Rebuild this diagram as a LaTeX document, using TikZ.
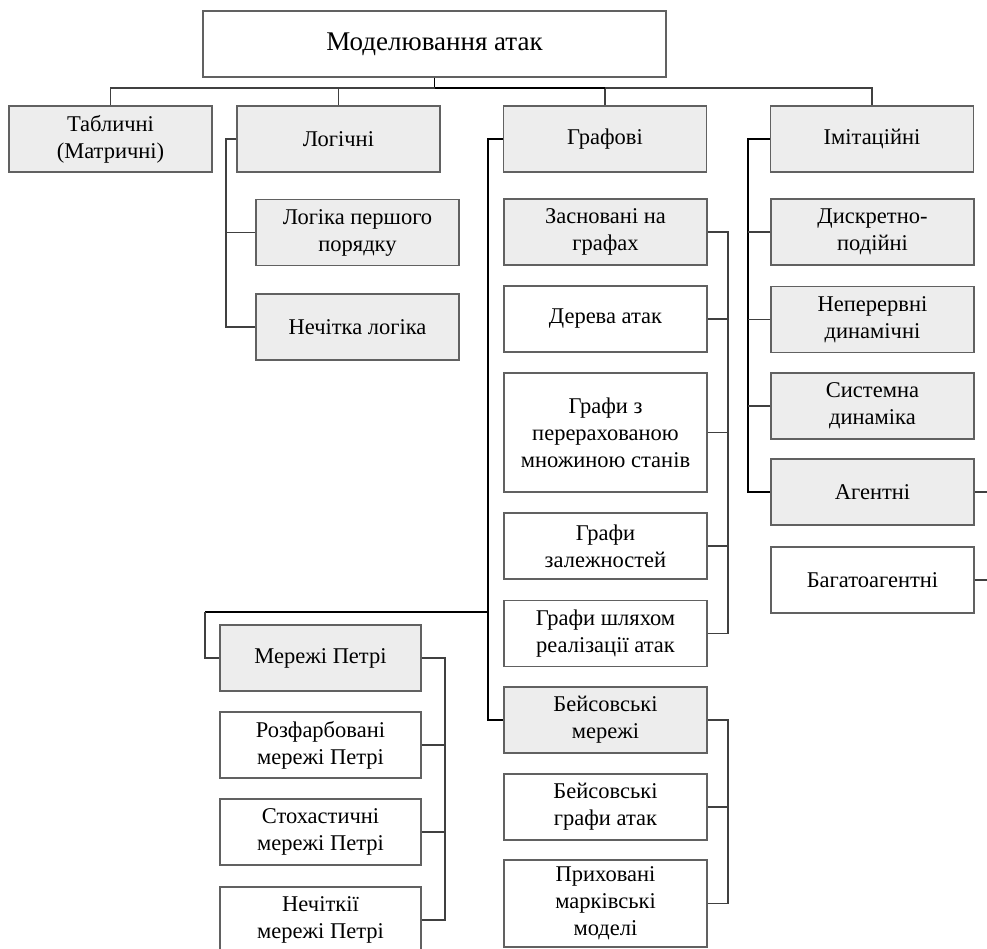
\documentclass[tikz,border=0pt]{standalone}
\usepackage{fontspec}
\setmainfont{Liberation Serif}
\begin{document}
\begin{tikzpicture}[x=1pt,y=-1pt,
  box/.style={draw=black!62, line width=1.3pt, fill=white, align=center,
    inner sep=1pt, minimum width=203pt, minimum height=66pt,
    font=\fontsize{22.5}{27}\selectfont},
  gbox/.style={box, fill=black!7},
  link/.style={draw=black!75, line width=1.1pt},
  bus/.style={draw=black, line width=1.6pt}]
\useasboundingbox (0,0) rectangle (987,949);

% root
\node[box, minimum width=463pt, font=\fontsize{27}{30}\selectfont] (root) at (434.5,44) {Моделювання атак};

% first level
\node[gbox] (tab)   at (110.5,139) {Табличні\\(Матричні)};
\node[gbox] (log)   at (338.5,139) {Логічні};
\node[gbox] (graph) at (605,139)   {Графові};
\node[gbox] (imit)  at (872,139)   {Імітаційні};

% logical models
\node[gbox] (fol)   at (357.5,232.5) {Логіка першого\\порядку};
\node[gbox] (fuzzy) at (357.5,327)   {Нечітка логіка};

% graph models
\node[gbox] (based)  at (605.5,232)   {Засновані на\\графах};
\node[box]  (trees)  at (605.5,319)   {Дерева атак};
\node[box, minimum height=119pt] (enum) at (605.5,432.5) {Графи з\\перерахованою\\множиною станів};
\node[box]  (dep)    at (605.5,546)   {Графи\\залежностей};
\node[box]  (path)   at (605.5,633.5) {Графи шляхом\\реалізації атак};
\node[gbox] (bayes)  at (605.5,720)   {Бейсовські\\мережі};
\node[box]  (bga)    at (605.5,807)   {Бейсовські\\графи атак};
\node[box, minimum height=87pt] (hidden) at (605.5,903.5) {Приховані\\марківські\\моделі};

% simulation models
\node[gbox] (disc)  at (872.5,232)   {Дискретно-\\подійні};
\node[gbox] (cont)  at (872.5,319.5) {Неперервні\\динамічні};
\node[gbox] (sysd)  at (872.5,406)   {Системна\\динаміка};
\node[gbox] (agent) at (872.5,492)   {Агентні};
\node[box]  (multi) at (872.5,580)   {Багатоагентні};

% Petri nets
\node[gbox, minimum width=201pt] (petri)  at (320.5,658) {Мережі Петрі};
\node[box,  minimum width=201pt] (col)    at (320.5,745) {Розфарбовані\\мережі Петрі};
\node[box,  minimum width=201pt] (stoch)  at (320.5,832) {Стохастичні\\мережі Петрі};
\node[box,  minimum width=201pt] (fpetri) at (320.5,920) {Нечіткії\\мережі Петрі};

% trunk from the root
\coordinate (hub) at (434.5,88);
\draw[bus] (root.south) -- (hub);
\draw[link] (tab.north) -- (tab.north |- hub) -- (imit.north |- hub) -- (imit.north);
\draw[link] (log.north) -- (log.north |- hub);
\draw[link] (graph.north) -- (graph.north |- hub);
\draw[bus] (hub) -- (graph.north |- hub);

% logical branch
\coordinate (lx) at (226,0);
\draw[link] (log.west) -- (log.west -| lx) |- (fuzzy.west);
\draw[link] (fol.west) -- (fol.west -| lx);

% graph branch
\coordinate (gx) at (488,0);
\coordinate (px) at (205,612);
\draw[bus] (graph.west) -- (graph.west -| gx) |- (bayes.west);
\draw[bus] (gx |- px) -- (px);
\draw[link] (px) |- (petri.west);

\coordinate (gr) at (728,0);
\draw[link] (based.east) -- (based.east -| gr) |- (path.east);
\draw[link] (trees.east) -- (trees.east -| gr);
\draw[link] (enum.east) -- (enum.east -| gr);
\draw[link] (dep.east) -- (dep.east -| gr);

\draw[link] (bayes.east) -- (bayes.east -| gr) |- (hidden.east);
\draw[link] (bga.east) -- (bga.east -| gr);

% Petri branch
\coordinate (pr) at (445,0);
\draw[link] (petri.east) -- (petri.east -| pr) |- (fpetri.east);
\draw[link] (col.east) -- (col.east -| pr);
\draw[link] (stoch.east) -- (stoch.east -| pr);

% simulation branch
\coordinate (ix) at (748,0);
\draw[bus] (imit.west) -- (imit.west -| ix) |- (agent.west);
\draw[link] (disc.west) -- (disc.west -| ix);
\draw[link] (cont.west) -- (cont.west -| ix);
\draw[link] (sysd.west) -- (sysd.west -| ix);

\coordinate (edgeA) at (987,492);
\coordinate (edgeM) at (987,580);
\draw[link] (agent.east) -- (edgeA);
\draw[link] (multi.east) -- (edgeM);
\end{tikzpicture}
\end{document}
